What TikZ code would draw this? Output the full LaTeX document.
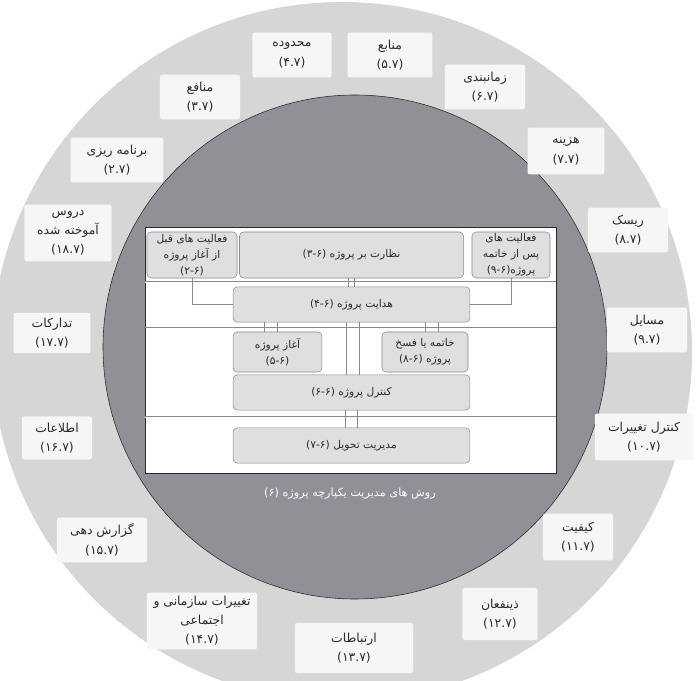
\documentclass[tikz,border=0pt]{standalone}
\usepackage{fontspec}
\usepackage{tikz}
\usetikzlibrary{calc}
\newfontfamily\arabicfont[Script=Arabic]{DejaVu Sans}
\TeXXeTstate=1
\definecolor{ringgray}{HTML}{D6D6D6}
\definecolor{discgray}{HTML}{8F9196}
\definecolor{boxwhite}{HTML}{F6F6F6}
\definecolor{cellgray}{HTML}{DFDFDF}
\definecolor{edgegray}{HTML}{8A8A8A}
\definecolor{inkgray}{HTML}{2A2A2A}
\newcommand\fatext[1]{{\arabicfont\beginR #1\endR}}
\newcommand\fanum[1]{{\arabicfont\beginL #1\endL}}

\begin{document}
\begin{tikzpicture}[x=0.025cm,y=-0.025cm,
  outbox/.style={fill=boxwhite,rounded corners=1.5pt,align=center,inner sep=1pt,
    minimum width=2cm,minimum height=1.12cm,text=inkgray,
    font=\fontsize{8.8}{14}\selectfont},
  cell/.style={fill=cellgray,draw=edgegray,rounded corners=3pt,align=center,inner sep=1pt,
    text=inkgray,font=\fontsize{7.6}{11.4}\selectfont},
  link/.style={edgegray,thin}]
  \useasboundingbox (0,0) rectangle (696,681);
  \fill[ringgray] (342,352) circle (350);
  \filldraw[fill=discgray,draw=inkgray,thin] (355,347) circle (252);
  \node[outbox] (benefits)  at (200,97)  {\fatext{منافع}\\\fanum{(۳.۷)}};
  \node[outbox,minimum width=1.98cm] (scope) at (292,55) {\fatext{محدوده}\\\fanum{(۴.۷)}};
  \node[outbox,minimum width=2.12cm] (resources) at (390,55) {\fatext{منابع}\\\fanum{(۵.۷)}};
  \node[outbox] (schedule)  at (485,87)  {\fatext{زمانبندی}\\\fanum{(۶.۷)}};
  \node[outbox,minimum width=1.92cm,minimum height=1.17cm] (cost) at (566,151) {\fatext{هزینه}\\\fanum{(۷.۷)}};
  \node[outbox] (risk)      at (628,230) {\fatext{ریسک}\\\fanum{(۸.۷)}};
  \node[outbox] (issues)    at (647,330) {\fatext{مسایل}\\\fanum{(۹.۷)}};
  \node[outbox,minimum width=2.45cm,minimum height=1.17cm] (change) at (644,437) {\fatext{کنترل تغییرات}\\\fanum{(۱۰.۷)}};
  \node[outbox,minimum width=1.75cm,minimum height=1.17cm] (quality) at (578,537) {\fatext{کیفیت}\\\fanum{(۱۱.۷)}};
  \node[outbox,minimum width=1.88cm,minimum height=1.3cm] (stakeholders) at (500,614) {\fatext{ذینفعان}\\\fanum{(۱۲.۷)}};
  \node[outbox,minimum width=2.95cm,minimum height=1.25cm] (comms) at (354,648) {\fatext{ارتباطات}\\\fanum{(۱۳.۷)}};
  \node[outbox,minimum width=2.75cm,minimum height=1.42cm,font=\fontsize{8.8}{13.5}\selectfont] (orgchange) at (202,621) {\fatext{تغییرات سازمانی و}\\\fatext{اجتماعی}\\\fanum{(۱۴.۷)}};
  \node[outbox,minimum width=2.25cm] (reporting) at (102,540) {\fatext{گزارش دهی}\\\fanum{(۱۵.۷)}};
  \node[outbox,minimum width=1.75cm,minimum height=1.08cm] (information) at (57,438) {\fatext{اطلاعات}\\\fanum{(۱۶.۷)}};
  \node[outbox,minimum width=1.92cm,minimum height=1cm] (procurement) at (52,333) {\fatext{تدارکات}\\\fanum{(۱۷.۷)}};
  \node[outbox,minimum width=2.18cm,minimum height=1.42cm,font=\fontsize{8.8}{13.5}\selectfont] (lessons) at (68,233) {\fatext{دروس}\\\fatext{آموخته شده}\\\fanum{(۱۸.۷)}};
  \node[outbox,minimum width=2.32cm] (planning) at (117,160) {\fatext{برنامه ریزی}\\\fanum{(۲.۷)}};
  \draw[fill=white,draw=inkgray] (145,227) rectangle (556,473);
  \draw[edgegray,double,double distance=0.6pt] (145,282) -- (556,282);
  \draw[edgegray] (145,327) -- (556,327);
  \draw[edgegray,double,double distance=0.6pt] (145,417) -- (556,417);
  \node[cell,minimum width=2.25cm,minimum height=1.15cm] (pre) at (192,255) {\fatext{فعالیت های قبل}\\\fatext{از آغاز پروژه}\\\fanum{(۲-۶)}};
  \node[cell,minimum width=5.6cm,minimum height=1.15cm] (oversee) at (351.5,255) {\fatext{نظارت بر پروژه \fanum{(۳-۶)}}};
  \node[cell,minimum width=1.95cm,minimum height=1.15cm] (post) at (511,255) {\fatext{فعالیت های}\\\fatext{پس از خاتمه}\\\fatext{پروژه\fanum{(۹-۶)}}};
  \node[cell,minimum width=5.92cm,minimum height=0.88cm] (direct) at (351.5,304.5) {\fatext{هدایت پروژه \fanum{(۴-۶)}}};
  \node[cell,minimum width=2.22cm,minimum height=1cm] (start) at (277.5,352) {\fatext{آغاز پروژه}\\\fanum{(۵-۶)}};
  \node[cell,minimum width=2.15cm,minimum height=1cm] (close) at (425,352) {\fatext{خاتمه یا فسخ}\\\fatext{پروژه \fanum{(۸-۶)}}};
  \node[cell,minimum width=5.92cm,minimum height=0.88cm] (control) at (351.5,392.5) {\fatext{کنترل پروژه \fanum{(۶-۶)}}};
  \node[cell,minimum width=5.92cm,minimum height=0.88cm] (deliver) at (351.5,445.5) {\fatext{مدیریت تحویل \fanum{(۷-۶)}}};
  \draw[link] (pre.south) |- (direct.west);
  \draw[link] (post.south) |- (direct.east);
  \foreach \dx [count=\i] in {-3,3} {
    \coordinate (ov\i) at ($(oversee.south)+(\dx,0)$);
    \draw[link] (ov\i) -- (ov\i |- direct.north);
  }
  \foreach \dx [count=\i] in {-13,0} {
    \coordinate (st\i) at ($(start.north)+(\dx,0)$);
    \draw[link] (st\i) -- (st\i |- direct.south);
  }
  \foreach \dx [count=\i] in {0,13} {
    \coordinate (cl\i) at ($(close.north)+(\dx,0)$);
    \draw[link] (cl\i) -- (cl\i |- direct.south);
  }
  \foreach \dx [count=\i] in {-5,8} {
    \coordinate (dc\i) at ($(control.north)+(\dx,0)$);
    \draw[link] (dc\i) -- (dc\i |- direct.south);
  }
  \foreach \dx [count=\i] in {-6,6} {
    \coordinate (cd\i) at ($(deliver.north)+(\dx,0)$);
    \draw[link] (cd\i) -- (cd\i |- control.south);
  }
  \node[white,font=\fontsize{8}{10}\selectfont] (title) at (350,494) {\fatext{روش های مدیریت یکپارچه پروژه \fanum{(۶)}}};
\end{tikzpicture}
\end{document}
